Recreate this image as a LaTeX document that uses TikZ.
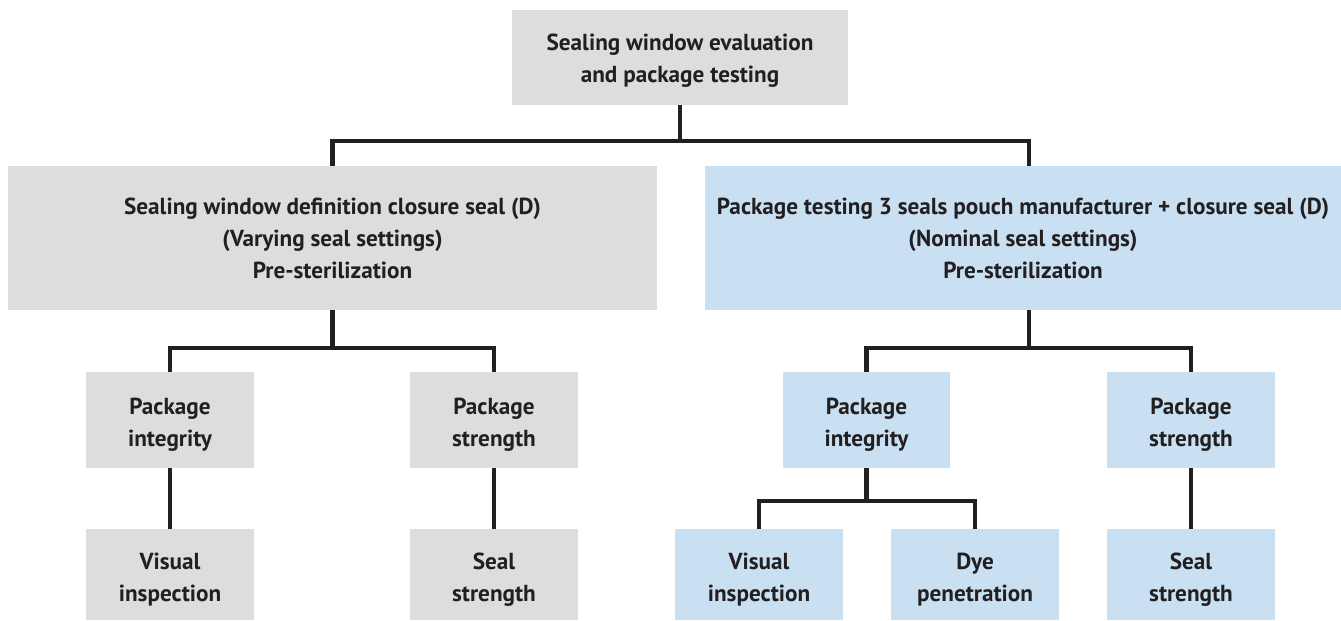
\documentclass[tikz,border=0pt]{standalone}
\usepackage{fontspec}
\setmainfont{PT Sans}
\usepackage{tikz}
\usetikzlibrary{positioning}

\definecolor{boxgray}{RGB}{220,221,223}
\definecolor{boxblue}{RGB}{201,224,243}
\definecolor{linedark}{RGB}{35,31,32}
\newcommand\topgap[1]{\rule{0pt}{#1}}

\tikzset{
  box/.style={fill=boxgray,align=center,inner sep=2pt,text=linedark,
    font=\fontsize{13.2}{18.2}\selectfont\bfseries},
  bluebox/.style={box,fill=boxblue},
  smallbox/.style={minimum width=3.36cm,minimum height=1.92cm},
  conn/.style={draw=linedark,line width=2.4pt}
}

\begin{document}
\begin{tikzpicture}[x=0.02cm,y=-0.02cm]
\useasboundingbox (0,0) rectangle (1341,620);
% top level
\node[box,minimum width=6.72cm,minimum height=1.9cm] (top) at (680,57.5) {\topgap{13pt}Sealing window evaluation\\and package testing};
% second level
\node[box,minimum width=12.98cm,minimum height=2.88cm] (swd) at (332.5,238) {Sealing window definition closure seal (D)\\(Varying seal settings)\\Pre-sterilization};
\begin{scope}
\clip (0,0) rectangle (1341,620);
\node[bluebox,minimum width=12.72cm,minimum height=2.88cm] (pkt) at (1023,238) {Package testing 3 seals pouch manufacturer + closure seal (D)\\(Nominal seal settings)\\Pre-sterilization};
\end{scope}
% third level
\node[box,smallbox] (swd_int) at (170,420) {\topgap{15pt}Package\\integrity};
\node[box,smallbox] (swd_str) at (494,420) {\topgap{15pt}Package\\strength};
\node[bluebox,smallbox] (pkt_int) at (866.5,420) {\topgap{15pt}Package\\integrity};
\node[bluebox,smallbox] (pkt_str) at (1191,420) {\topgap{15pt}Package\\strength};
% fourth level
\node[box,smallbox,minimum height=1.82cm] (swd_vis) at (170,574.5) {\topgap{15pt}Visual\\inspection};
\node[box,smallbox,minimum height=1.82cm] (swd_seal) at (494,574.5) {\topgap{15pt}Seal\\strength};
\node[bluebox,smallbox,minimum height=1.82cm] (pkt_vis) at (759,574.5) {\topgap{15pt}Visual\\inspection};
\node[bluebox,smallbox,minimum height=1.82cm] (pkt_dye) at (975,574.5) {\topgap{15pt}Dye\\penetration};
\node[bluebox,smallbox,minimum height=1.82cm] (pkt_seal) at (1191,574.5) {\topgap{15pt}Seal\\strength};

% connectors
\coordinate (pkt_top) at ([xshift=0.12cm]pkt.north);
\coordinate (pkt_bot) at ([xshift=0.12cm]pkt.south);
\draw[conn] (top.south) -- ++(0,35.5) coordinate (j0);
\draw[conn] (swd.north) |- (j0) -| (pkt_top);
\draw[conn] (swd.south) -- ++(0,38) coordinate (j1);
\draw[conn] (swd_int.north) |- (j1) -| (swd_str.north);
\draw[conn] (pkt_bot) -- ++(0,38) coordinate (j2);
\draw[conn] (pkt_int.north) |- (j2) -| (pkt_str.north);
\draw[conn] (pkt_int.south) -- ++(0,33) coordinate (j3);
\draw[conn] (pkt_vis.north) |- (j3) -| (pkt_dye.north);
\draw[conn] (swd_int) -- (swd_vis);
\draw[conn] (swd_str) -- (swd_seal);
\draw[conn] (pkt_str) -- (pkt_seal);
\end{tikzpicture}
\end{document}
